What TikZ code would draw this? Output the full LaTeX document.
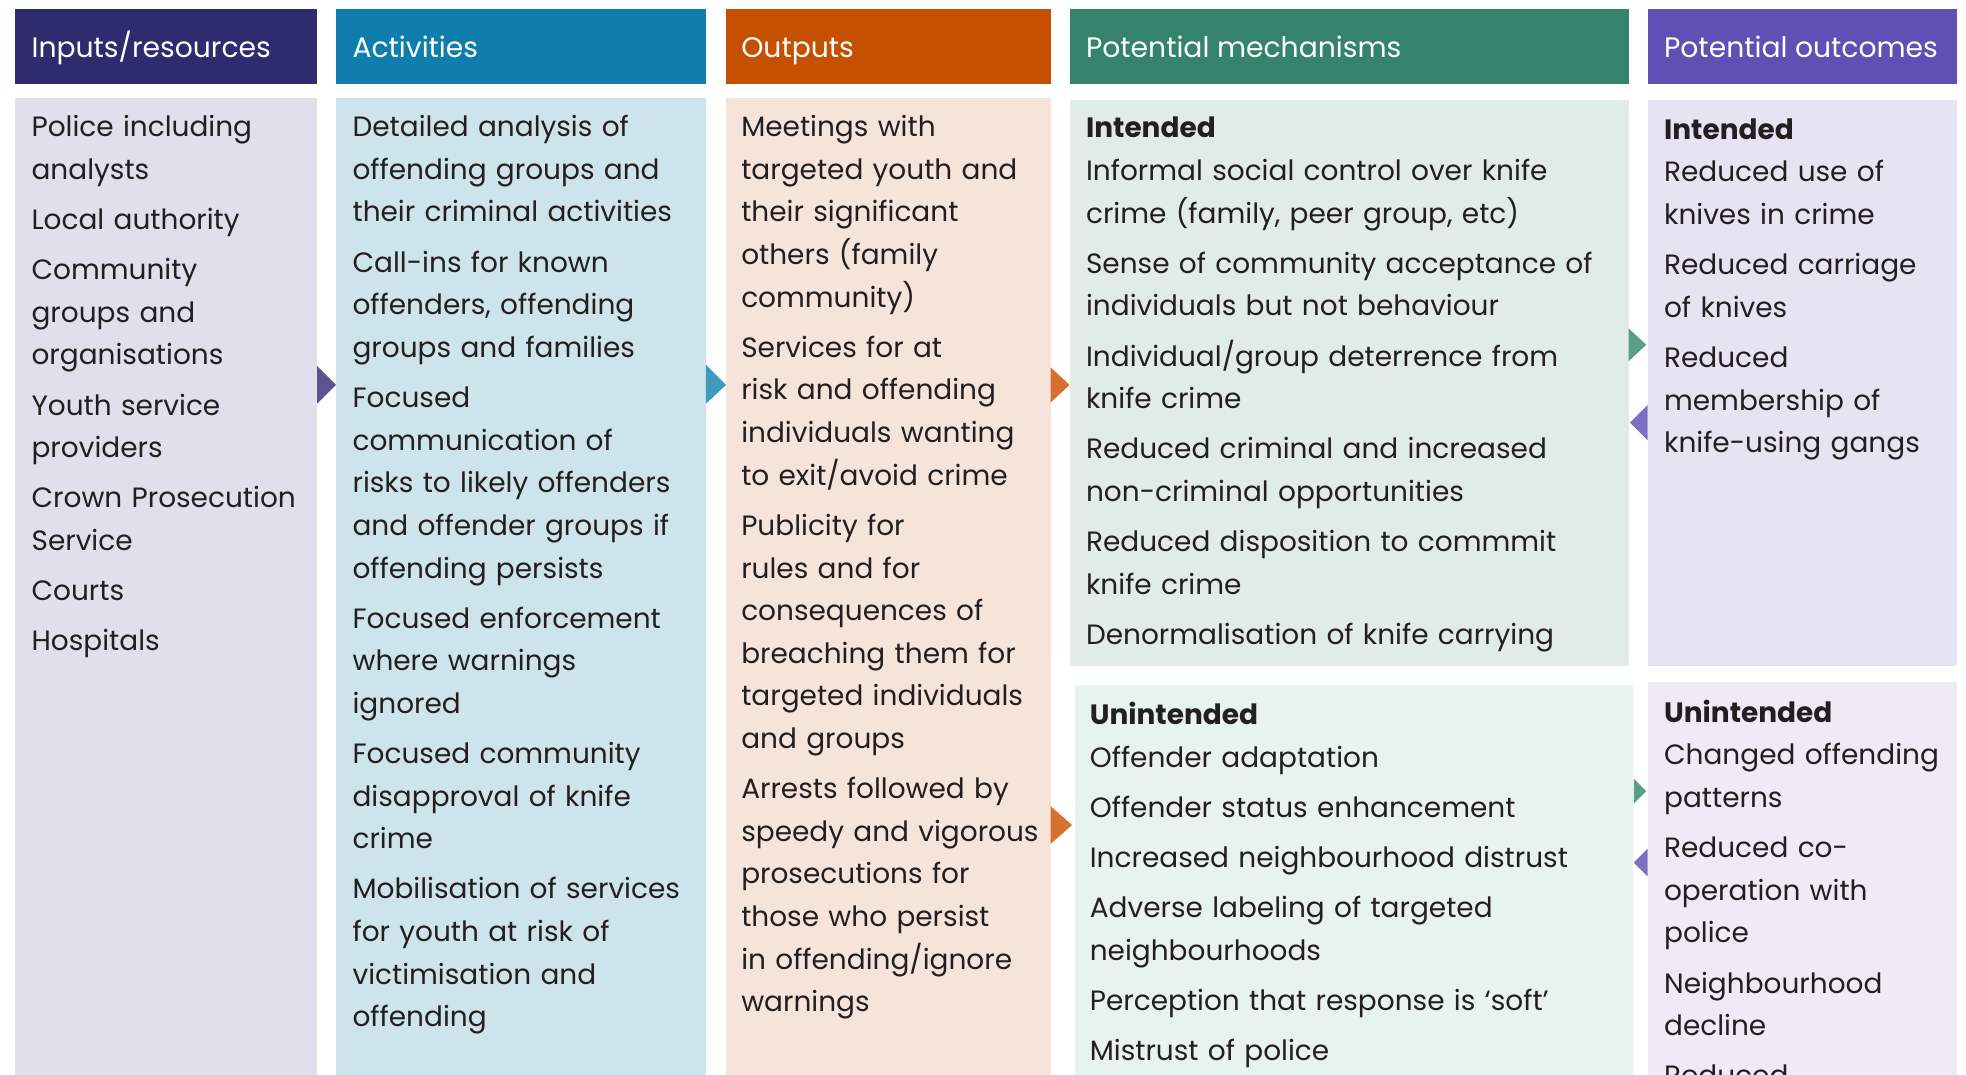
\documentclass[tikz,border=0pt]{standalone}
\usepackage{fontspec}
\setmainfont{Poppins}
\definecolor{hA}{HTML}{2E2B6E}
\definecolor{hB}{HTML}{0F7EAC}
\definecolor{hC}{HTML}{C55100}
\definecolor{hD}{HTML}{35836B}
\definecolor{hE}{HTML}{5E50B5}
\definecolor{bA}{HTML}{E0DFEB}
\definecolor{bB}{HTML}{CEE4EC}
\definecolor{bC}{HTML}{F6E4DA}
\definecolor{bD}{HTML}{E1EBE7}
\definecolor{bDu}{HTML}{E8F2EF}
\definecolor{bE}{HTML}{E6E3F3}
\definecolor{bEu}{HTML}{EEEBF7}
\definecolor{aA}{HTML}{5A5490}
\definecolor{aB}{HTML}{3E9BBC}
\definecolor{aC}{HTML}{D6722F}
\definecolor{aG}{HTML}{5A9E88}
\definecolor{aP}{HTML}{7C70C4}
\definecolor{txt}{HTML}{231F20}
\begin{document}
\begin{tikzpicture}[x=1pt,y=-1pt,
  hdr/.style={anchor=base west,inner sep=0pt,text=white,font=\fontsize{22.5}{26}\selectfont},
  body/.style={anchor=base west,inner sep=0pt,text=txt,align=left,text width=#1,
    font=\fontsize{22.3}{34}\selectfont},
  body/.default=300pt]
\useasboundingbox (0,0) rectangle (1568,857);
\clip (0,0) rectangle (1568,857);
\fill[white] (0,0) rectangle (1568,857);
% headers
\fill[hA] (12,7) rectangle (253,67);
\fill[hB] (268,7) rectangle (563,67);
\fill[hC] (579,7) rectangle (838,67);
\fill[hD] (853,7) rectangle (1299,67);
\fill[hE] (1314,7) rectangle (1561,67);
\node[hdr] (hA) at (25,46) {Inputs/resources};
\node[hdr] (hB) at (281,46) {Activities};
\node[hdr] (hC) at (591,46) {Outputs};
\node[hdr] (hD) at (866,46) {Potential mechanisms};
\node[hdr] (hE) at (1327,46) {Potential outcomes};
% bodies
\fill[bA] (12,78) rectangle (253,870);
\fill[bB] (268,78) rectangle (563,870);
\fill[bC] (579,78) rectangle (838,870);
\fill[bD] (853,80) rectangle (1299,531);
\fill[bDu] (857,546) rectangle (1302,870);
\fill[bE] (1314,80) rectangle (1561,531);
\fill[bEu] (1314,544) rectangle (1561,870);
% arrows
\fill[aA] (253,292) -- (268,307) -- (253,322) -- cycle;
\fill[aB] (563,291) -- (579,307) -- (563,322) -- cycle;
\fill[aC] (838,293) -- (853,307) -- (838,321) -- cycle;
\fill[aC] (838,643) -- (855,658) -- (838,673) -- cycle;
\fill[aG] (1299,262) -- (1313,275) -- (1299,288) -- cycle;
\fill[aP] (1314,323) -- (1300,337) -- (1314,351) -- cycle;
\fill[aG] (1303,621) -- (1313,631) -- (1303,641) -- cycle;
\fill[aP] (1314,677) -- (1303,688) -- (1314,699) -- cycle;
% texts
\node[body=230pt] (tA) at (25,109) {Police including\\analysts\\[6pt]Local authority\\[6pt]Community\\groups and\\organisations\\[6pt]Youth service\\providers\\[6pt]Crown Prosecution\\Service\\[6pt]Courts\\[6pt]Hospitals};
\node[body=285pt] (tB) at (281,109) {Detailed analysis of\\offending groups and\\their criminal activities\\[6pt]Call-ins for known\\offenders, offending\\groups and families\\[6pt]Focused\\communication of\\risks to likely offenders\\and offender groups if\\offending persists\\[6pt]Focused enforcement\\where warnings\\ignored\\[6pt]Focused community\\disapproval of knife\\crime\\[6pt]Mobilisation of services\\for youth at risk of\\victimisation and\\offending};
\node[body=250pt] (tC) at (591,109) {Meetings with\\targeted youth and\\their significant\\others (family\\community)\\[6pt]Services for at\\risk and offending\\individuals wanting\\to exit/avoid crime\\[6pt]Publicity for\\rules and for\\consequences of\\breaching them for\\targeted individuals\\and groups\\[6pt]Arrests followed by\\speedy and vigorous\\prosecutions for\\those who persist\\in offending/ignore\\warnings};
\node[body=430pt] (tD) at (866,110) {\textbf{Intended}\\Informal social control over knife\\crime (family, peer group, etc)\\[6pt]Sense of community acceptance of\\individuals but not behaviour\\[6pt]Individual/group deterrence from\\knife crime\\[6pt]Reduced criminal and increased\\non-criminal opportunities\\[6pt]Reduced disposition to commmit\\knife crime\\[6pt]Denormalisation of knife carrying};
\node[body=430pt] (tDu) at (869,578) {\textbf{Unintended}\\Offender adaptation\\[6pt]Offender status enhancement\\[6pt]Increased neighbourhood distrust\\[6pt]Adverse labeling of targeted\\neighbourhoods\\[6pt]Perception that response is ‘soft’\\[6pt]Mistrust of police};
\node[body=235pt] (tE) at (1327,111) {\textbf{Intended}\\Reduced use of\\knives in crime\\[6pt]Reduced carriage\\of knives\\[6pt]Reduced\\membership of\\knife-using gangs};
\node[body=235pt] (tEu) at (1327,576) {\textbf{Unintended}\\Changed offending\\patterns\\[6pt]Reduced co-\\operation with\\police\\[6pt]Neighbourhood\\decline\\[6pt]Reduced};
\end{tikzpicture}
\end{document}
